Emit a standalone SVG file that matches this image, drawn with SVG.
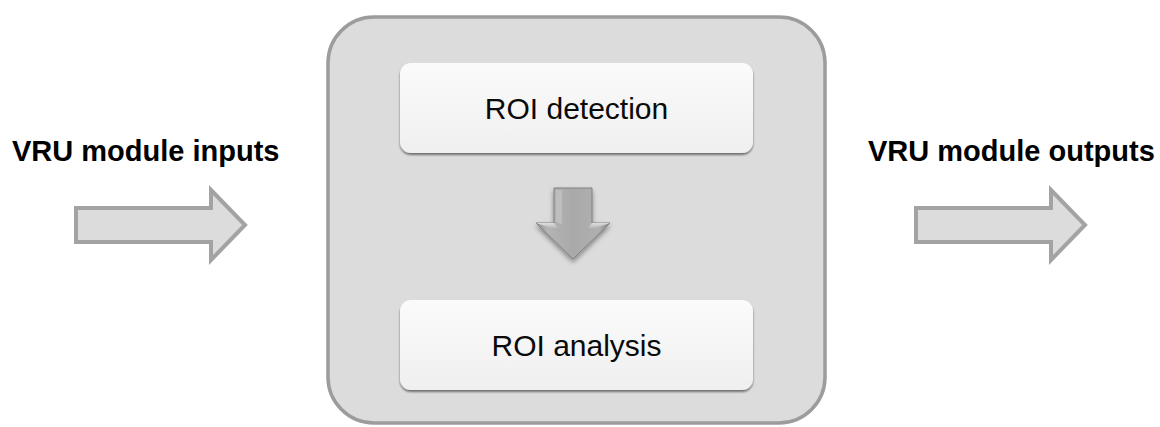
<svg xmlns="http://www.w3.org/2000/svg" width="1160" height="427" viewBox="0 0 1160 427">
  <style>
    .label { font-family: "Liberation Sans", Arial, sans-serif; font-weight: bold; font-size: 29px; fill: #000; }
    .inner-text { font-family: "Liberation Sans", Arial, sans-serif; font-size: 30px; fill: #0a0a0a; text-anchor: middle; }
    .io-arrow { fill: #dcdcdc; stroke: #a3a3a3; stroke-width: 4; stroke-linejoin: miter; }
    .inner-box { fill: url(#innerGrad); stroke: none; }
  </style>
  <defs>
    <linearGradient id="innerGrad" x1="0" y1="0" x2="0" y2="1">
      <stop offset="0" stop-color="#fbfbfb"/>
      <stop offset="1" stop-color="#efefef"/>
    </linearGradient>
    <linearGradient id="downGrad" x1="0" y1="0" x2="1" y2="0">
      <stop offset="0" stop-color="#8e8e8e"/>
      <stop offset="0.15" stop-color="#b4b4b4"/>
      <stop offset="0.5" stop-color="#a9a9a9"/>
      <stop offset="0.85" stop-color="#b0b0b0"/>
      <stop offset="1" stop-color="#888888"/>
    </linearGradient>
    <linearGradient id="bevelGrad" x1="0" y1="0" x2="0" y2="1">
      <stop offset="0" stop-color="#e6e6e6"/>
      <stop offset="1" stop-color="#9a9a9a"/>
    </linearGradient>
    <filter id="shadow" x="-10%" y="-10%" width="120%" height="130%">
      <feGaussianBlur in="SourceAlpha" stdDeviation="1.2"/>
      <feOffset dx="0" dy="2" result="b"/>
      <feComponentTransfer><feFuncA type="linear" slope="0.5"/></feComponentTransfer>
      <feMerge><feMergeNode/><feMergeNode in="SourceGraphic"/></feMerge>
    </filter>
    <filter id="arrowShadow" x="-20%" y="-20%" width="140%" height="150%">
      <feGaussianBlur in="SourceAlpha" stdDeviation="2.5"/>
      <feOffset dx="0" dy="3" result="b"/>
      <feComponentTransfer><feFuncA type="linear" slope="0.4"/></feComponentTransfer>
      <feMerge><feMergeNode/><feMergeNode in="SourceGraphic"/></feMerge>
    </filter>
  </defs>

  <rect width="1160" height="427" fill="#ffffff"/>

  <g id="container">
    <rect x="328" y="17" width="497" height="406" rx="46" ry="46" fill="#dcdcdc" stroke="#9c9c9c" stroke-width="3.5"/>
  </g>

  <g id="roi-detection">
    <rect class="inner-box" x="400" y="63" width="353" height="90" rx="11" ry="11" filter="url(#shadow)"/>
    <text class="inner-text" x="576.5" y="119">ROI detection</text>
  </g>

  <g id="roi-analysis">
    <rect class="inner-box" x="400" y="300" width="353" height="90" rx="11" ry="11" filter="url(#shadow)"/>
    <text class="inner-text" x="576.5" y="356">ROI analysis</text>
  </g>

  <g id="label-inputs">
    <text class="label" x="12" y="161">VRU module inputs</text>
  </g>

  <g id="label-outputs">
    <text class="label" x="868" y="161">VRU module outputs</text>
  </g>

  <g id="connectors">
    <path id="arrow-in" class="io-arrow" d="M76,208 L211,208 L211,190 L245,225 L211,260 L211,242 L76,242 Z"/>
    <path id="arrow-out" class="io-arrow" d="M916,208 L1051,208 L1051,190 L1085,225 L1051,260 L1051,242 L916,242 Z"/>
    <g id="arrow-down" filter="url(#arrowShadow)">
      <path d="M554,188 L592,188 L592,223 L610,223 L573,259 L536,223 L554,223 Z" fill="url(#downGrad)" stroke="#808080" stroke-width="1"/>
      <path d="M536,223 L554,223 L560,231 Z" fill="url(#bevelGrad)" opacity="0.9"/>
      <path d="M610,223 L592,223 L586,231 Z" fill="url(#bevelGrad)" opacity="0.9"/>
      <path d="M556,190 L562,190 L562,224 L556,222 Z" fill="#c8c8c8" opacity="0.6"/>
    </g>
  </g>
</svg>
